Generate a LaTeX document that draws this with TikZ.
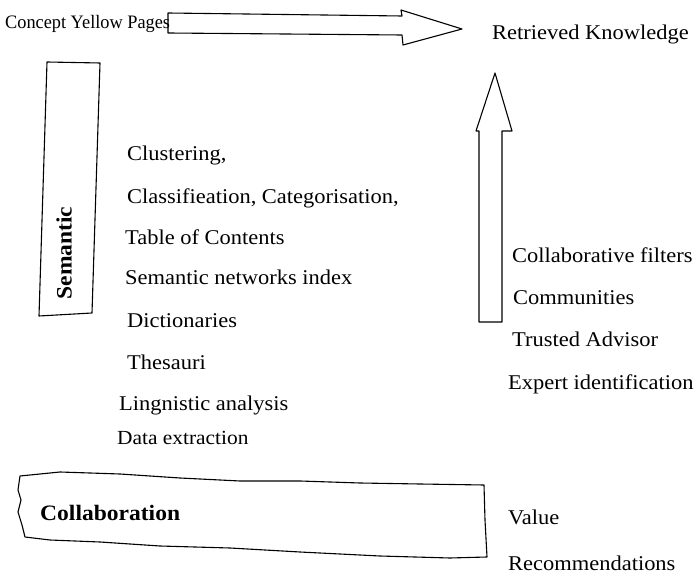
\documentclass[tikz,border=0pt]{standalone}
\usepackage{fontspec}
\setmainfont{Liberation Serif}[FakeStretch=1.07]
\begin{document}
\begin{tikzpicture}[x=1pt,y=-1pt,
  lbl/.style={anchor=base west,inner sep=0pt,font=\fontsize{21}{25}\selectfont},
  blbl/.style={anchor=base west,inner sep=0pt,font=\fontsize{22}{26}\selectfont\bfseries},
  outline/.style={draw=black,line width=1.1pt,line join=round}]
\useasboundingbox (0,0) rectangle (694,577);

% top row
\node[lbl,font=\fontsize{19}{23}\selectfont] (cyp) at (5,29) {\scalebox{0.9}[1]{Concept Yellow Pages}};
\node[lbl] (rk) at (492,40) {Retrieved Knowledge};

% big right arrow
\draw[outline] (168,13) -- (402,16) -- (401,10) -- (462,29) -- (403,45) -- (402,35) -- (168,33) -- cycle;

% big up arrow
\draw[outline] (479,322) -- (479,131) -- (476,131) -- (495,73) -- (512,131) -- (502,131) -- (502,322) -- cycle;

% Semantic box
\draw[outline] (47,62) -- (100,63) -- (92,313) -- (39,316) -- cycle;
\node[rotate=90,inner sep=0pt,font=\fontsize{22}{26}\selectfont\bfseries] (sem) at (64,253) {Semantic};

% middle list
\node[lbl] (clu) at (127,161) {Clustering,};
\node[lbl] (cla) at (127,204) {Classifieation, Categorisation,};
\node[lbl] (toc) at (125,245) {Table of Contents};
\node[lbl] (sni) at (125,285) {Semantic networks index};
\node[lbl] (dic) at (127,328) {Dictionaries};
\node[lbl] (the) at (127,370) {Thesauri};
\node[lbl] (lin) at (119,411) {Lingnistic analysis};
\node[lbl,font=\fontsize{20}{24}\selectfont] (dat) at (117,444) {Data extraction};

% right list
\node[lbl] (cf) at (512,263) {Collaborative filters};
\node[lbl] (com) at (513,305) {Communities};
\node[lbl] (ta) at (512,347) {Trusted Advisor};
\node[lbl] (ei) at (508,390) {Expert identification};

% Collaboration box
\draw[outline] (20,476) -- (60,472) -- (120,474) -- (180,478) -- (240,481) -- (300,481)
  -- (360,483) -- (420,484) -- (484,485) -- (485,520) -- (487,557) -- (450,558)
  -- (380,556) -- (300,552) -- (230,548) -- (160,546) -- (100,542) -- (50,540)
  -- (25,537) -- (22,525) -- (18,512) -- (21,500) -- (18,490) -- cycle;
\node[blbl] (col) at (40,520) {Collaboration};

\node[lbl] (val) at (508,524) {Value};
\node[lbl] (rec) at (508,570) {Recommendations};
\end{tikzpicture}
\end{document}
